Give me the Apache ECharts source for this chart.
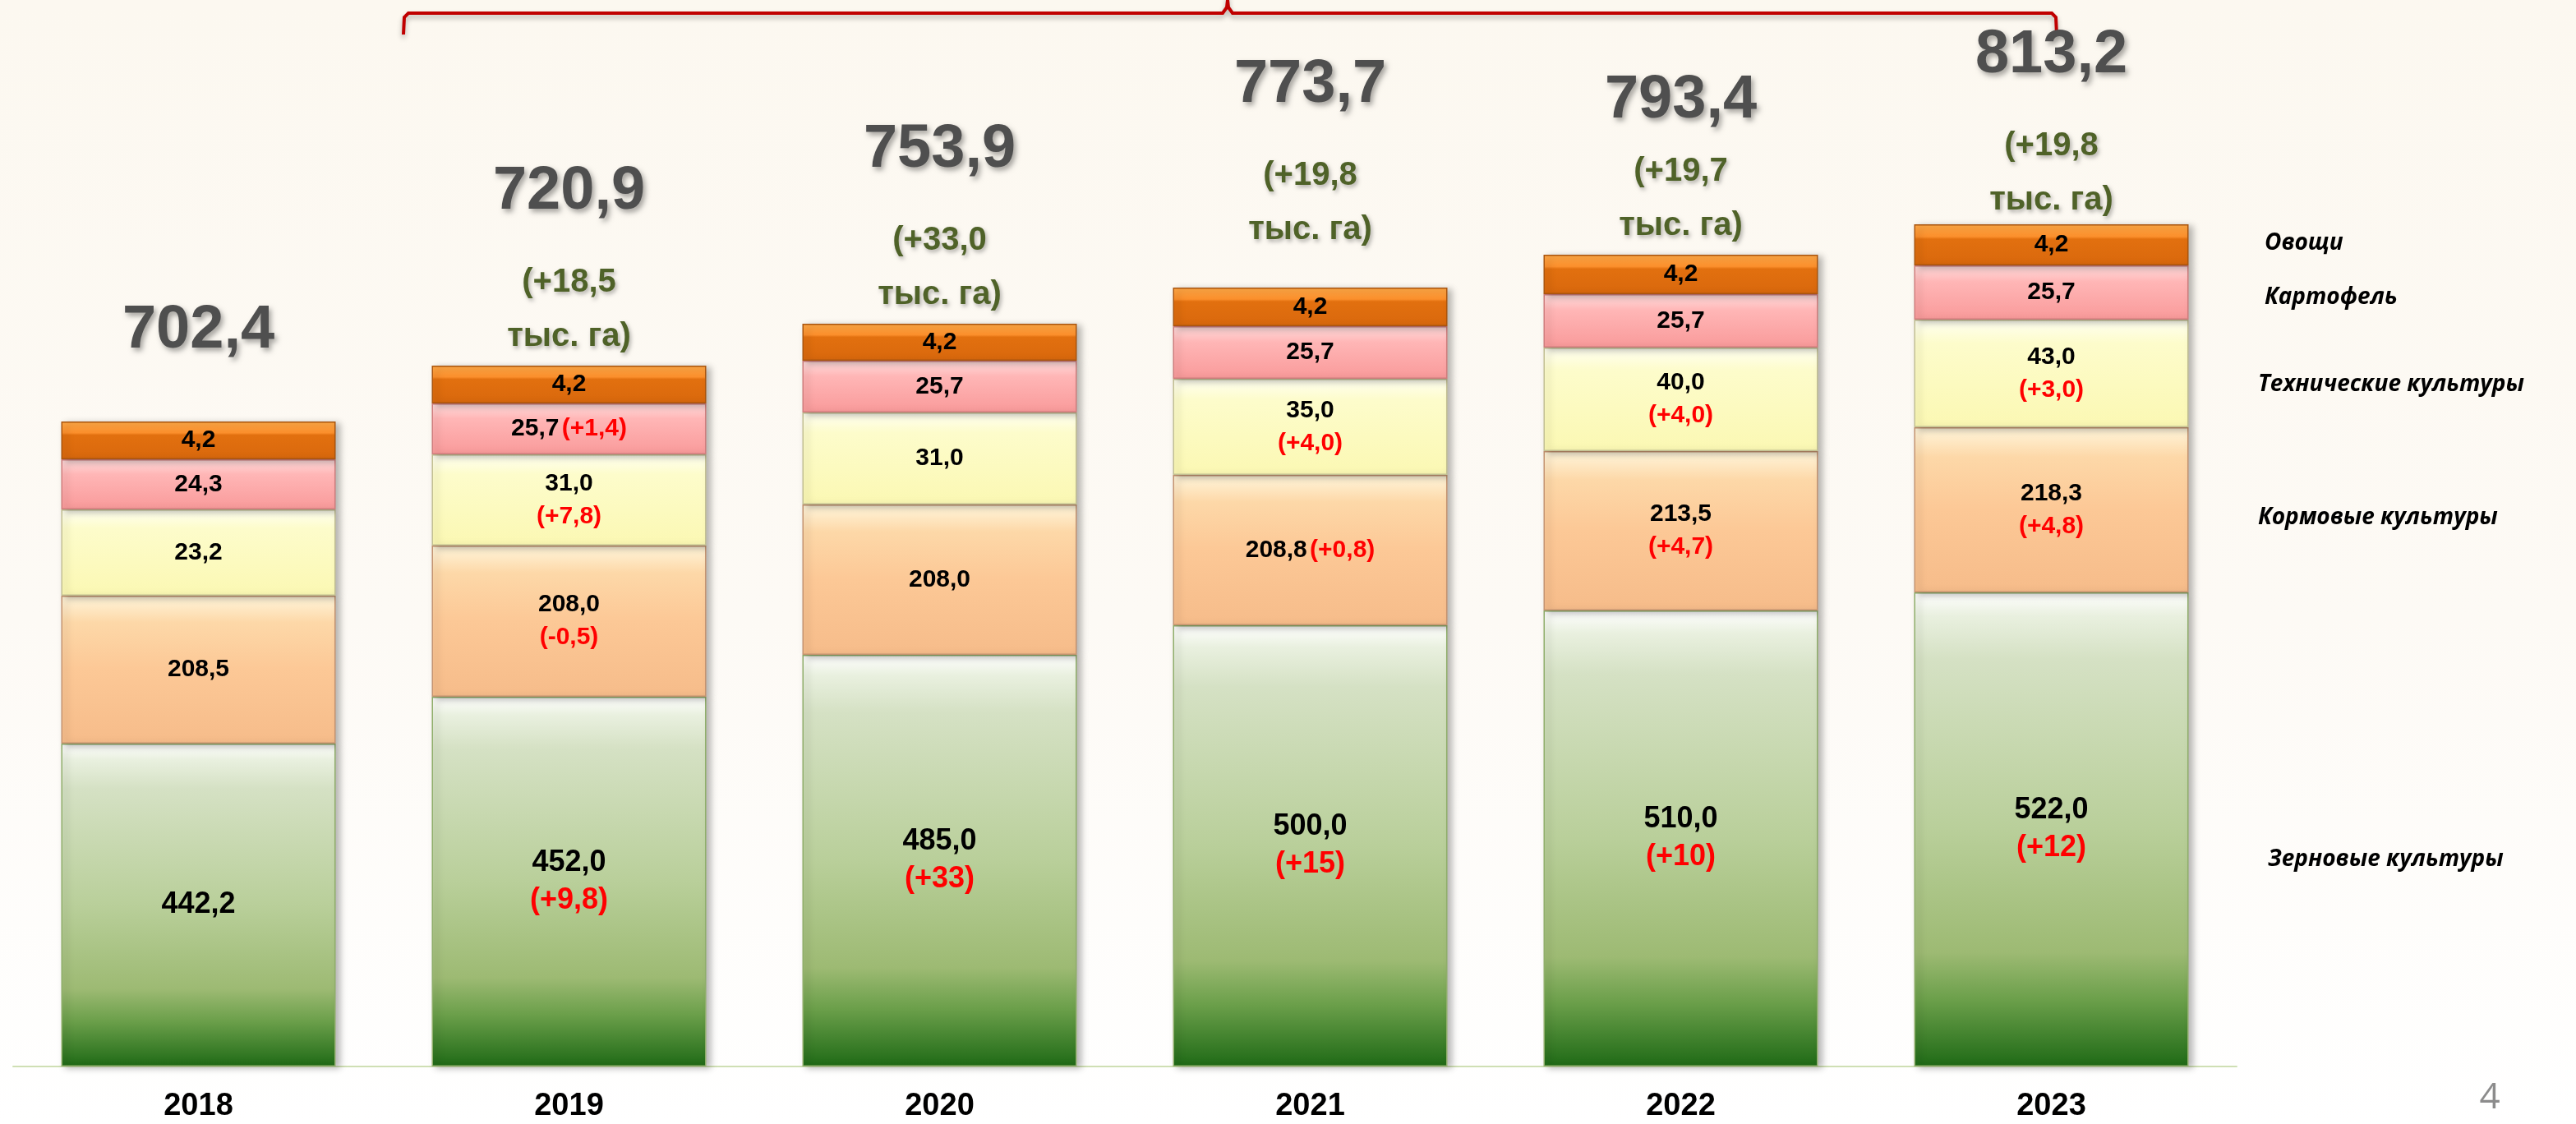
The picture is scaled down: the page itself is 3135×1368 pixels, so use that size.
<!DOCTYPE html>
<html>
<head>
<meta charset="utf-8">
<script src="https://cdn.jsdelivr.net/npm/echarts@6/dist/echarts.min.js"></script>
<style>
  html, body { margin: 0; padding: 0; background: #ffffff; }
  #chart { width: 3135px; height: 1368px; }
</style>
</head>
<body>
<div id="chart"></div>
<script>
// Years on the x axis
const years = ['2018', '2019', '2020', '2021', '2022', '2023'];

// Sown area by crop group, thousand ha (labels on the slide)
const grain = [442.2, 452.0, 485.0, 500.0, 510.0, 522.0];
const fodder = [208.5, 208.0, 208.0, 208.8, 213.5, 218.3];
const technical = [23.2, 31.0, 31.0, 35.0, 40.0, 43.0];
const potato = [24.3, 25.7, 25.7, 25.7, 25.7, 25.7];
const vegetables = [4.2, 4.2, 4.2, 4.2, 4.2, 4.2];
const totals = [702.4, 720.9, 753.9, 773.7, 793.4, 813.2];

// Changes vs previous year, as written on the slide
const grainChange = ['', '+9,8', '+33', '+15', '+10', '+12'];
const fodderChange = ['', '-0,5', '', '+0,8', '+4,7', '+4,8'];
const technicalChange = ['', '+7,8', '', '+4,0', '+4,0', '+3,0'];
const potatoChange = ['', '+1,4', '', '', '', ''];
const vegetablesChange = ['', '', '', '', '', ''];
const totalChange = ['', '+18,5', '+33,0', '+19,8', '+19,7', '+19,8'];

// The slide's bars are not to scale: segment heights as drawn
const grainDrawn = [393, 450, 501, 537, 555, 577];
const fodderDrawn = [180, 184, 183, 183, 194, 201];
const technicalDrawn = [105, 111, 112, 117, 126, 131];
const potatoDrawn = [61, 62, 63, 64, 65, 66];
const vegetablesDrawn = [46, 46, 45, 47, 48, 50];

const FONT = '"Liberation Sans", Arial, sans-serif';
const fmt = v => v.toFixed(1).replace('.', ',');

function grad(stops) {
    return new echarts.graphic.LinearGradient(0, 0, 0, 1,
        stops.map(s => ({ offset: s[0], color: s[1] })));
}

const groups = [
    {
        name: 'Зерновые культуры', drawn: grainDrawn, values: grain, change: grainChange, size: 36,
        color: grad([[0, '#ffffff'], [0.05, '#e9f0df'], [0.14, '#d5e1c4'], [0.5, '#b9cf9a'],
            [0.76, '#9dba73'], [0.86, '#6b9f4a'], [1, '#1f6a16']]),
        border: '#8fae6a'
    },
    {
        name: 'Кормовые культуры', drawn: fodderDrawn, values: fodder, change: fodderChange, size: 30,
        color: grad([[0, '#fff6dc'], [0.18, '#fdd8a8'], [0.5, '#fcc896'], [1, '#f6bc8a']]),
        border: '#c49370', inline: [3]
    },
    {
        name: 'Технические культуры', drawn: technicalDrawn, values: technical, change: technicalChange, size: 30,
        color: grad([[0, '#fffff2'], [0.22, '#fdfccb'], [1, '#fbf8b3']]),
        border: '#c2bf92'
    },
    {
        name: 'Картофель', drawn: potatoDrawn, values: potato, change: potatoChange, size: 30,
        color: grad([[0, '#ffdede'], [0.3, '#ffb6b6'], [1, '#f99a9a']]),
        border: '#cf7d7d', inline: [0, 1, 2, 3, 4, 5]
    },
    {
        name: 'Овощи', drawn: vegetablesDrawn, values: vegetables, change: vegetablesChange, size: 30,
        color: grad([[0, '#ffa947'], [0.3, '#fb8f2c'], [0.36, '#e2700f'], [1, '#d9680d']]),
        border: '#a9550e'
    }
];

const series = groups.map(g => ({
    name: g.name,
    type: 'bar',
    stack: 'area',
    barWidth: 334,
    data: g.drawn,
    itemStyle: {
        color: g.color,
        borderColor: g.border,
        borderWidth: 1.5,
        shadowColor: 'rgba(0,0,0,0.28)',
        shadowBlur: 8,
        shadowOffsetX: 5,
        shadowOffsetY: 2
    },
    label: {
        show: true,
        position: 'inside',
        formatter: p => {
            const i = p.dataIndex;
            const v = '{v|' + fmt(g.values[i]) + '}';
            if (!g.change[i]) return v;
            const c = '{r|(' + g.change[i] + ')}';
            return (g.inline && g.inline.includes(i)) ? v + ' ' + c : v + '\n' + c;
        },
        rich: {
            v: { fontFamily: FONT, fontSize: g.size, fontWeight: 'bold', color: '#000', lineHeight: g.size + 10 },
            r: { fontFamily: FONT, fontSize: g.size, fontWeight: 'bold', color: '#ff0000', lineHeight: g.size + 10 }
        }
    }
}));

// Totals and yearly gain above each bar; small per-year placement tweaks
const totalGap = [33, 2, 2, 37, 2, -4];
const totalLine = [154, 154, 154, 154, 106, 154];

function totalRich(lh) {
    return {
        t: {
            fontFamily: FONT, fontSize: 74, fontWeight: 'bold', color: '#4f4f4f', lineHeight: lh,
            textShadowColor: 'rgba(0,0,0,0.35)', textShadowBlur: 6, textShadowOffsetX: 3, textShadowOffsetY: 4
        },
        c: {
            fontFamily: FONT, fontSize: 40, fontWeight: 'bold', color: '#4f6228', lineHeight: 66,
            textShadowColor: 'rgba(0,0,0,0.3)', textShadowBlur: 5, textShadowOffsetX: 2, textShadowOffsetY: 3
        }
    };
}

series.push({
    name: 'Итого',
    type: 'bar',
    stack: 'area',
    barWidth: 334,
    data: years.map((y, i) => ({
        value: 0,
        label: { distance: totalGap[i], rich: totalRich(totalLine[i]) }
    })),
    itemStyle: { color: 'rgba(0,0,0,0)' },
    label: {
        show: true,
        position: 'top',
        formatter: p => {
            const i = p.dataIndex;
            const t = '{t|' + fmt(totals[i]) + '}';
            if (!totalChange[i]) return t;
            return t + '\n{c|(' + totalChange[i] + '}\n{c|тыс. га)}';
        },
        rich: totalRich(154)
    }
});

const legendFont = 'italic bold 28px "Open Sans", sans-serif';
const sideText = [
    ['Овощи', 2756, 296],
    ['Картофель', 2756, 362],
    ['Технические культуры', 2748, 468],
    ['Кормовые культуры', 2748, 630],
    ['Зерновые культуры', 2760, 1046]
];

const chart = echarts.init(document.getElementById('chart'));
chart.setOption({
    animation: false,
    backgroundColor: grad([[0, '#fcf8f0'], [0.55, '#fdfaf5'], [1, '#ffffff']]),
    grid: { left: 16, right: 413, top: 98, bottom: 70 },
    xAxis: {
        type: 'category',
        data: years,
        axisTick: { show: false },
        axisLine: { lineStyle: { color: '#cfdfb4', width: 2 } },
        axisLabel: { fontFamily: FONT, fontSize: 38, fontWeight: 'bold', color: '#000', margin: 30 }
    },
    yAxis: { type: 'value', min: 0, max: 1200, show: false, splitLine: { show: false } },
    series: series,
    graphic: [
        {
            type: 'polyline',
            shape: { points: [[491, 42], [492, 21], [497, 16], [1488, 16], [1493, 9], [1494, 0],
                [1495, 9], [1500, 16], [2497, 16], [2502, 21], [2503, 42]] },
            style: { stroke: '#c00000', lineWidth: 4, fill: null,
                shadowColor: 'rgba(0,0,0,0.3)', shadowBlur: 6, shadowOffsetY: 4 }
        },
        ...sideText.map(s => ({
            type: 'text', x: s[1], y: s[2],
            style: { text: s[0], font: legendFont, fill: '#000', verticalAlign: 'middle' }
        })),
        {
            type: 'text', x: 3030, y: 1336,
            style: { text: '4', font: '44px "Open Sans", sans-serif', fill: '#8c8c8c',
                align: 'center', verticalAlign: 'middle' }
        }
    ]
});
</script>
</body>
</html>
